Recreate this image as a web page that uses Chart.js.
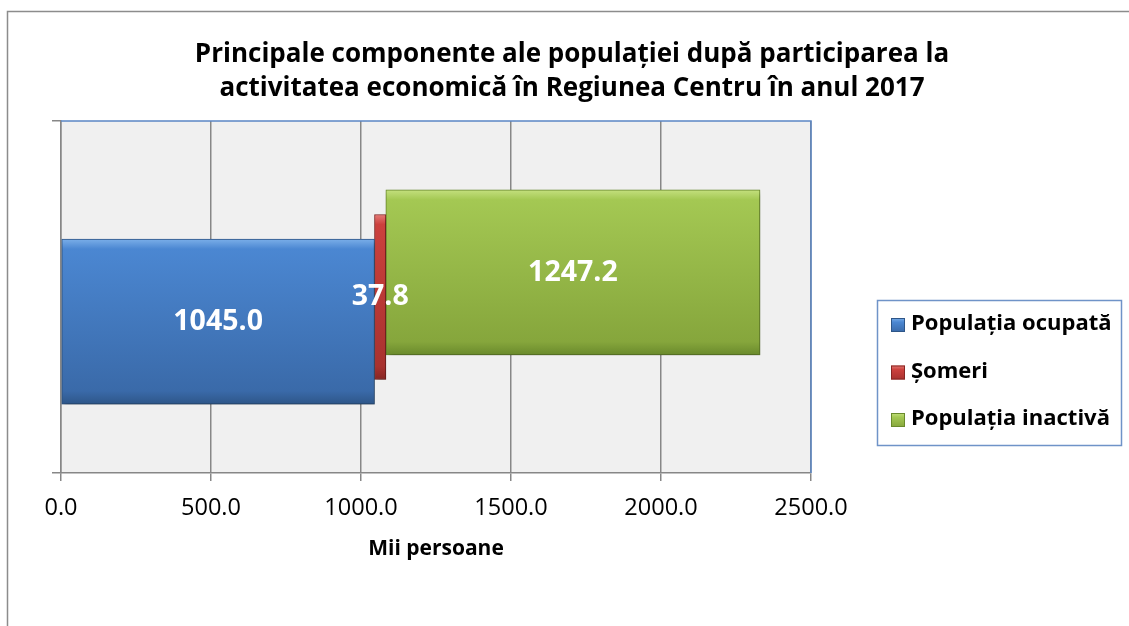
<!DOCTYPE html>
<html>
<head>
<meta charset="utf-8">
<script src="https://cdn.jsdelivr.net/npm/chart.js@4.4.0/dist/chart.umd.min.js"></script>
<style>
  html, body { margin: 0; padding: 0; background: #fff; }
</style>
</head>
<body>
<canvas id="myChart" width="1129" height="626"></canvas>
<script>
"use strict";

const categories = ["Populația ocupată", "Șomeri", "Populația inactivă"];
const values = [1045.0, 37.8, 1247.2];
const xTicks = [0, 500, 1000, 1500, 2000, 2500];

// 3D look of the original: every segment sits a bit higher than the one before
const depth = [0.43, 0.5, 0.57];
const barSize = 165;
const colors = [
  { light: "#7aaee8", main: "#4b87d2", dark: "#3a6aa9", edge: "#2e5688" },
  { light: "#e57a76", main: "#cc413d", dark: "#a8322f", edge: "#862623" },
  { light: "#c4e07e", main: "#a4c853", dark: "#86a63c", edge: "#6a8a2c" },
];
const FONT = "'Open Sans'";

const starts = values.map((v, i) => values.slice(0, i).reduce((a, b) => a + b, 0));

function barFill(context, i) {
  const chart = context.chart;
  const c = colors[i];
  if (!chart.chartArea || !chart.scales.y) return c.main;
  const yc = chart.scales.y.getPixelForValue(depth[i]);
  const g = chart.ctx.createLinearGradient(0, yc - barSize / 2, 0, yc + barSize / 2);
  g.addColorStop(0, c.light);
  g.addColorStop(0.06, c.main);
  g.addColorStop(0.92, c.dark);
  g.addColorStop(1, c.edge);
  return g;
}

const frame = {
  id: "frame",
  beforeDraw(chart) {
    const { ctx, chartArea: a } = chart;
    ctx.save();
    ctx.strokeStyle = "#8c8c8c";
    ctx.lineWidth = 1.5;
    ctx.strokeRect(7.5, 11.5, 1400, 800);
    ctx.fillStyle = "#f0f0f0";
    ctx.fillRect(a.left, a.top, a.right - a.left, a.bottom - a.top);
    ctx.restore();
  },
  afterDraw(chart) {
    const { ctx, chartArea: a } = chart;
    ctx.save();
    ctx.strokeStyle = "#5b87c5";
    ctx.lineWidth = 1.5;
    ctx.beginPath();
    ctx.moveTo(a.left, a.top);
    ctx.lineTo(a.right, a.top);
    ctx.lineTo(a.right, a.bottom);
    ctx.stroke();
    ctx.restore();
  },
};

const shadow = {
  id: "shadow",
  beforeDatasetsDraw(chart) {
    const ctx = chart.ctx;
    ctx.save();
    ctx.shadowColor = "rgba(0,0,0,0.35)";
    ctx.shadowBlur = 5;
    ctx.shadowOffsetX = 2;
    ctx.shadowOffsetY = 3;
  },
  afterDatasetsDraw(chart) {
    chart.ctx.restore();
  },
};

const valueLabels = {
  id: "valueLabels",
  afterDatasetsDraw(chart) {
    const ctx = chart.ctx;
    ctx.save();
    ctx.font = "bold 28.5px " + FONT;
    ctx.fillStyle = "#fff";
    ctx.textAlign = "center";
    ctx.textBaseline = "middle";
    chart.data.datasets.forEach((ds, i) => {
      const bar = chart.getDatasetMeta(i).data[0];
      ctx.fillText(values[i].toFixed(1), (bar.x + bar.base) / 2, bar.y);
    });
    ctx.restore();
  },
};

const legendBox = {
  id: "legendBox",
  afterDraw(chart) {
    const ctx = chart.ctx;
    ctx.save();
    ctx.strokeStyle = "#6f93c8";
    ctx.lineWidth = 1.5;
    ctx.strokeRect(877.5, 300.5, 244, 145);
    ctx.font = "bold 22px " + FONT;
    ctx.textAlign = "left";
    ctx.textBaseline = "middle";
    chart.data.datasets.forEach((ds, i) => {
      const y = 325 + i * 47.5;
      const c = colors[i];
      const g = ctx.createLinearGradient(0, y - 7, 0, y + 7);
      g.addColorStop(0, c.light);
      g.addColorStop(0.3, c.main);
      g.addColorStop(1, c.dark);
      ctx.fillStyle = g;
      ctx.fillRect(891, y - 7, 14, 14);
      ctx.strokeStyle = c.edge;
      ctx.lineWidth = 1;
      ctx.strokeRect(891.5, y - 6.5, 13, 13);
      ctx.fillStyle = "#000";
      ctx.fillText(ds.label, 911, y - 1);
    });
    ctx.restore();
  },
};

new Chart(document.getElementById("myChart"), {
  type: "bar",
  data: {
    datasets: categories.map((c, i) => ({
      label: c,
      data: [{ x: [starts[i], starts[i] + values[i]], y: depth[i] }],
      backgroundColor: (ctx) => barFill(ctx, i),
      borderColor: colors[i].edge,
      borderWidth: 1,
      borderSkipped: false,
      barThickness: barSize,
      grouped: false,
    })),
  },
  options: {
    indexAxis: "y",
    responsive: false,
    animation: false,
    layout: { padding: { left: 15, top: 0, right: 0, bottom: 0 } },
    plugins: {
      legend: { display: false },
      tooltip: { enabled: false },
      title: {
        display: true,
        text: [
          "Principale componente ale populației după participarea la",
          "activitatea economică în Regiunea Centru în anul 2017",
        ],
        color: "#000",
        font: { family: FONT, size: 26, weight: "bold", lineHeight: 1.29 },
        padding: { top: 38, bottom: 16 },
      },
    },
    scales: {
      x: {
        type: "linear",
        min: 0,
        max: 2500,
        afterBuildTicks: (s) => { s.ticks = xTicks.map((v) => ({ value: v })); },
        afterFit: (s) => { s.height = 153; },
        grid: { color: "#878787", lineWidth: 1.5, tickLength: 8 },
        border: { color: "#878787", width: 1.5 },
        ticks: {
          color: "#000",
          padding: 13,
          font: { family: FONT, size: 23.5 },
          callback: (v) => Number(v).toFixed(1),
        },
        title: {
          display: true,
          text: "Mii persoane",
          color: "#000",
          font: { family: FONT, size: 21, weight: "bold" },
          padding: { top: 0, bottom: 64 },
        },
      },
      y: {
        type: "linear",
        min: 0,
        max: 1,
        offset: false,
        afterBuildTicks: (s) => { s.ticks = [{ value: 0 }, { value: 1 }]; },
        afterFit: (s) => { s.width = 46; },
        grid: { offset: false, drawOnChartArea: false, color: "#878787", lineWidth: 1.5, tickLength: 9 },
        border: { color: "#878787", width: 1.5 },
        ticks: { display: false },
      },
      yRight: {
        type: "linear",
        position: "right",
        afterFit: (s) => { s.width = 318; },
        grid: { display: false },
        border: { display: false },
        ticks: { display: false },
      },
    },
  },
  plugins: [frame, shadow, valueLabels, legendBox],
});
</script>
</body>
</html>
